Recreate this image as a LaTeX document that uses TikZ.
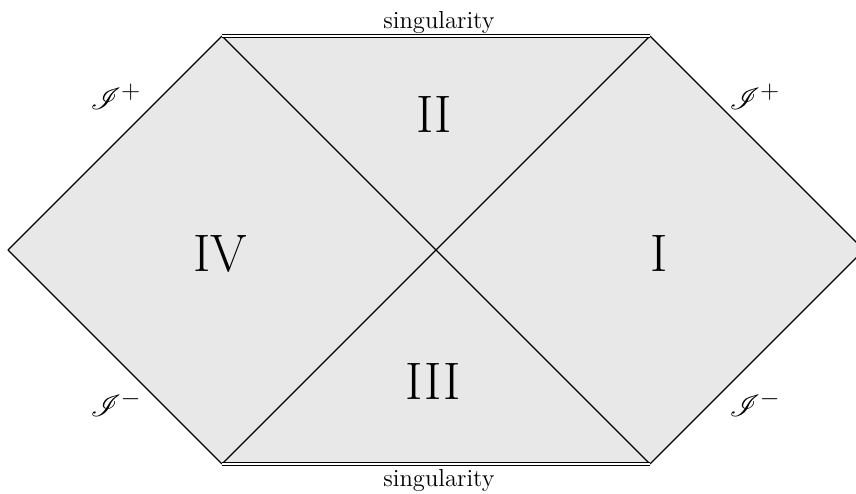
\documentclass[tikz,border=0pt]{standalone}
\usepackage{mathrsfs}
\usetikzlibrary{calc}

\begin{document}
\begin{tikzpicture}
  \useasboundingbox (-8.72,-4.88) rectangle (8.4,5.0);
  \coordinate (C) at (0,0);
  \coordinate (TL) at ($(C)+(-4.28,4.28)$);
  \coordinate (TR) at ($(C)+(4.28,4.28)$);
  \coordinate (BL) at ($(C)+(-4.28,-4.28)$);
  \coordinate (BR) at ($(C)+(4.28,-4.28)$);
  \coordinate (L) at ($(C)+(-8.56,0)$);
  \coordinate (R) at ($(C)+(8.56,0)$);

  \fill[black!9] (L) -- (TL) -- (TR) -- (R) -- (BR) -- (BL) -- cycle;

  \path[draw,line width=0.7pt] (L) -- (TL) (TL) -- (BR) (BL) -- (TR)
        (TR) -- (R) (R) -- (BR) (BL) -- (L);
  \path[draw,line width=0.6pt,double,double distance=1.1pt] (TL) -- (TR) (BL) -- (BR);

  \node (S1) at ($(C)+(0.06,4.55)$) {\fontsize{14}{17}\selectfont singularity};
  \node (S2) at ($(C)+(0.06,-4.6)$) {\fontsize{14}{17}\selectfont singularity};

  \node (N1) at ($(C)+(4.46,-0.07)$) {\fontsize{30}{36}\selectfont I};
  \node (N2) at ($(C)+(-0.04,2.71)$) {\fontsize{30}{36}\selectfont II};
  \node (N3) at ($(C)+(-0.06,-2.64)$) {\fontsize{30}{36}\selectfont III};
  \node (N4) at ($(C)+(-4.32,-0.07)$) {\fontsize{30}{36}\selectfont IV};

  \node (P1) at ($(C)+(-6.4,3.06)$) {\fontsize{19}{22}\selectfont $\mathscr{I}^+$};
  \node (P2) at ($(C)+(6.38,3.06)$) {\fontsize{19}{22}\selectfont $\mathscr{I}^+$};
  \node (M1) at ($(C)+(-6.4,-3.08)$) {\fontsize{19}{22}\selectfont $\mathscr{I}^-$};
  \node (M2) at ($(C)+(6.38,-3.08)$) {\fontsize{19}{22}\selectfont $\mathscr{I}^-$};
\end{tikzpicture}
\end{document}
